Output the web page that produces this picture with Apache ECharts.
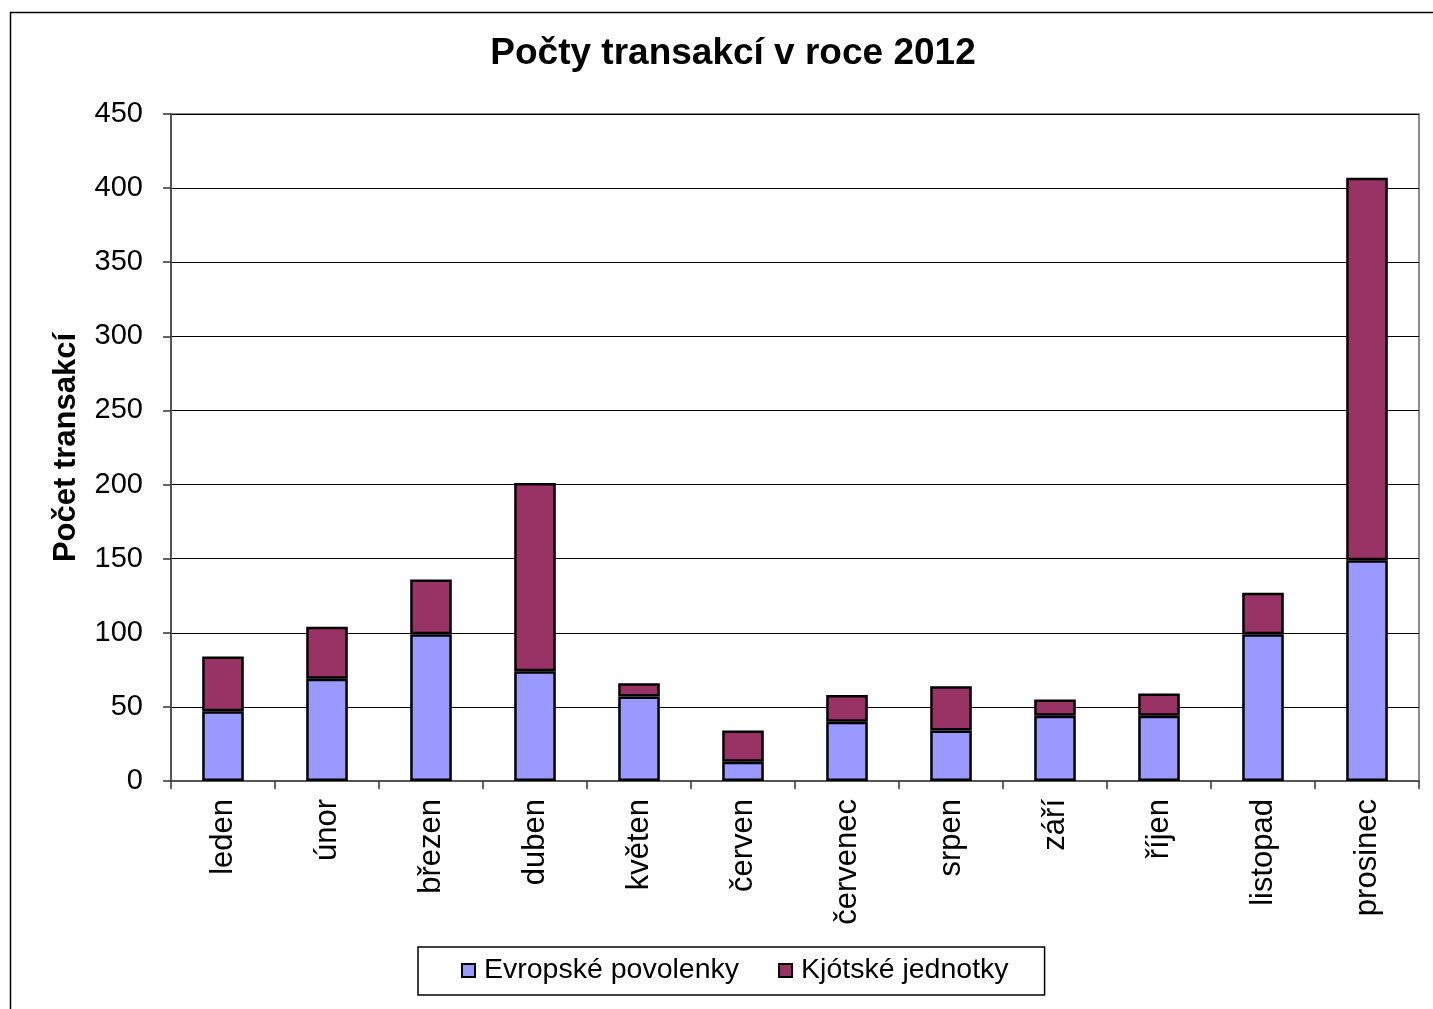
<!DOCTYPE html>
<html><head><meta charset="utf-8">
<script src="https://cdn.jsdelivr.net/npm/echarts@6/dist/echarts.min.js"></script>
<style>html,body{margin:0;padding:0;background:#fff}#c{width:1433px;height:1009px}</style>
</head><body><div id="c"></div>
<script>
const categories = ['leden','únor','březen','duben','květen','červen','červenec','srpen','září','říjen','listopad','prosinec'];
const evropske = [47, 69, 99, 74, 57, 13, 40, 34, 44, 44, 99, 149];
const kjotske = [37, 35, 37, 127, 9, 21, 18, 30, 11, 15, 28, 258];
const yTicks = {min: 0, max: 450, interval: 50};
const seriesNames = ['Evropské povolenky', 'Kjótské jednotky'];
const titleText = 'Počty transakcí v roce 2012';
const yAxisName = 'Počet transakcí';

const FONT = '"Liberation Sans", Arial, sans-serif';
const chart = echarts.init(document.getElementById('c'));
chart.setOption({
  animation: false,
  backgroundColor: '#fff',
  textStyle: {fontFamily: FONT},
  title: {
    text: titleText, left: 728, top: 30, textAlign: 'center',
    textStyle: {fontFamily: FONT, fontSize: 37, fontWeight: 'bold', color: '#000'}
  },
  graphic: [{
    type: 'rect', left: 8, top: 10, shape: {width: 1440, height: 1010},
    style: {fill: 'none', stroke: '#000', lineWidth: 1.5}, silent: true
  }],
  legend: {
    left: 418, top: 947,
    itemWidth: 13, itemHeight: 13, itemGap: 39,
    padding: [9, 36, 10, 43],
    borderColor: '#000', borderWidth: 1.5,
    icon: 'rect',
    textStyle: {fontFamily: FONT, fontSize: 28.5, color: '#000', padding: [0, 0, 0, 4]},
    data: seriesNames.map(n => ({name: n, itemStyle: {borderColor: '#000', borderWidth: 2}}))
  },
  grid: {
    left: 171, right: 14, top: 114, bottom: 228,
    show: true, borderColor: '#8c8c8c', borderWidth: 2, backgroundColor: '#fff'
  },
  xAxis: {
    type: 'category', data: categories,
    axisLine: {lineStyle: {color: '#555', width: 2}},
    axisTick: {show: true, length: 8, lineStyle: {color: '#333', width: 1.5}},
    axisLabel: {rotate: 90, margin: 18, fontFamily: FONT, fontSize: 31, color: '#000'}
  },
  yAxis: {
    type: 'value', min: yTicks.min, max: yTicks.max, interval: yTicks.interval,
    name: yAxisName, nameLocation: 'middle', nameGap: 89,
    nameTextStyle: {fontFamily: FONT, fontSize: 31, fontWeight: 'bold', color: '#000'},
    axisLine: {show: true, lineStyle: {color: '#555', width: 2}},
    axisTick: {show: true, length: 8, lineStyle: {color: '#333', width: 1.5}},
    axisLabel: {margin: 28, fontFamily: FONT, fontSize: 29, color: '#000'},
    splitLine: {show: true, lineStyle: {color: '#000', width: 1.2}}
  },
  series: [
    {name: seriesNames[0], type: 'bar', stack: 's', data: evropske, barWidth: '40%',
     itemStyle: {color: '#9999ff', borderColor: '#000', borderWidth: 2.5}},
    {name: seriesNames[1], type: 'bar', stack: 's', data: kjotske, barWidth: '40%',
     itemStyle: {color: '#993366', borderColor: '#000', borderWidth: 2.5}}
  ]
});
</script></body></html>
